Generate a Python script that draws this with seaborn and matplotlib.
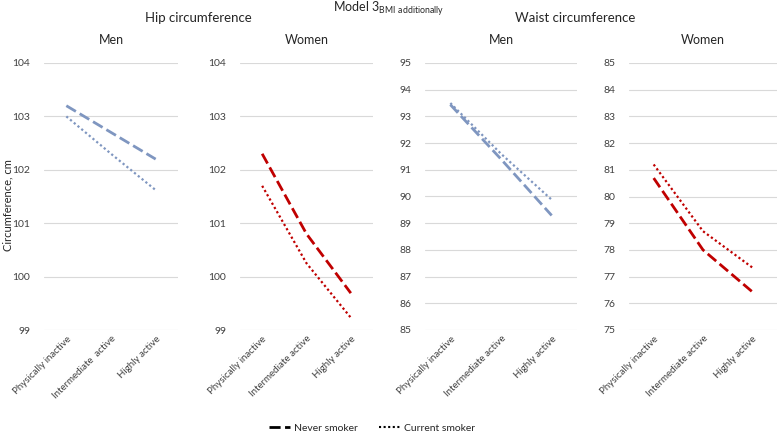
import matplotlib
matplotlib.use("Agg")
import matplotlib.pyplot as plt
import seaborn as sns
import pandas as pd
from matplotlib.lines import Line2D

sns.set_theme(style="white")
plt.rcParams['font.family'] = ['Lato', 'DejaVu Sans']

categories = ["Physically inactive", "Intermediate  active", "Highly active"]
categories_w = ["Physically inactive", "Intermediate active", "Highly active"]

hip_men_never = [103.2, 102.7, 102.2]
hip_men_current = [103.0, 102.3, 101.62]
hip_women_never = [102.3, 100.8, 99.69]
hip_women_current = [101.7, 100.25, 99.23]
waist_men_never = [93.44, 91.4, 89.29]
waist_men_current = [93.5, 91.6, 89.88]
waist_women_never = [80.69, 78.0, 76.43]
waist_women_current = [81.2, 78.7, 77.34]

smokers = ["Never smoker", "Current smoker"]

W, H = 778, 438
fig = plt.figure(figsize=(W / 100, H / 100), dpi=100)

def px_axes(x0, x1, ytop, ybot):
    return fig.add_axes([x0 / W, 1 - ybot / H, (x1 - x0) / W, (ybot - ytop) / H])

MEN_C = "#7F96C0"
WOMEN_C = "#C00000"

panels = [
    dict(box=(44, 178, 63, 330), cats=categories, never=hip_men_never, cur=hip_men_current,
         ylim=(99, 104), color=MEN_C, title="Men"),
    dict(box=(240, 373, 63, 330), cats=categories_w, never=hip_women_never, cur=hip_women_current,
         ylim=(99, 104), color=WOMEN_C, title="Women"),
    dict(box=(425, 577, 63, 330), cats=categories_w, never=waist_men_never, cur=waist_men_current,
         ylim=(85, 95), color=MEN_C, title="Men"),
    dict(box=(629, 777, 63, 330), cats=categories_w, never=waist_women_never, cur=waist_women_current,
         ylim=(75, 85), color=WOMEN_C, title="Women"),
]

for i, p in enumerate(panels):
    ax = px_axes(*p["box"])
    df = pd.DataFrame({
        "activity": p["cats"] * 2,
        "value": p["never"] + p["cur"],
        "smoker": [smokers[0]] * 3 + [smokers[1]] * 3,
    })
    sns.lineplot(data=df, x="activity", y="value", hue="smoker", style="smoker",
                 palette=[p["color"], p["color"]], dashes=[(4, 1.6), (1, 1.2)],
                 sort=False, ax=ax, legend=False)
    lws = [2.0, 1.6]
    for ln, lw in zip(ax.get_lines(), lws):
        ln.set_linewidth(lw)
    ax.set_xlim(-0.5, 2.5)
    lo, hi = p["ylim"]
    ax.set_ylim(lo, hi)
    ax.set_yticks(range(lo, hi + 1))
    ax.grid(axis="y", color="#D9D9D9", linewidth=0.8)
    ax.grid(axis="x", visible=False)
    for s in ax.spines.values():
        s.set_visible(False)
    ax.tick_params(axis="y", length=0, pad=10, labelsize=7.5, labelcolor="#404040")
    ax.tick_params(axis="x", length=0, pad=3, labelsize=7, labelcolor="#404040")
    ax.set_xticks(range(3))
    ax.set_xticklabels(p["cats"], rotation=45, ha="right", rotation_mode="anchor")
    ax.set_xlabel("")
    ax.set_ylabel("")
    ax.set_title(p["title"], fontsize=9, color="#262626", pad=14)

fig.text(8 / W, 1 - 205 / H, "Circumference, cm", rotation=90, ha="center", va="center",
         fontsize=8, color="#262626")
fig.text(198 / W, 1 - 18 / H, "Hip circumference", ha="center", va="center", fontsize=9.5, color="#262626")
fig.text(575 / W, 1 - 18 / H, "Waist circumference", ha="center", va="center", fontsize=9.5, color="#262626")
fig.text(389 / W, 1 - 9 / H, r"Model 3$_{\mathregular{BMI\ additionally}}$", ha="center", va="center",
         fontsize=9, color="#262626")

handles = [Line2D([], [], color="black", lw=2.0, dashes=(4, 1.6)),
           Line2D([], [], color="black", lw=1.5, dashes=(1, 1.2))]
fig.legend(handles, smokers, loc="center", bbox_to_anchor=(372 / W, 1 - 428 / H), ncol=2,
           frameon=False, fontsize=7.5, handlelength=2.0, columnspacing=2.0, handletextpad=0.4,
           labelcolor="#262626")

fig.savefig("out.png", dpi=100)
